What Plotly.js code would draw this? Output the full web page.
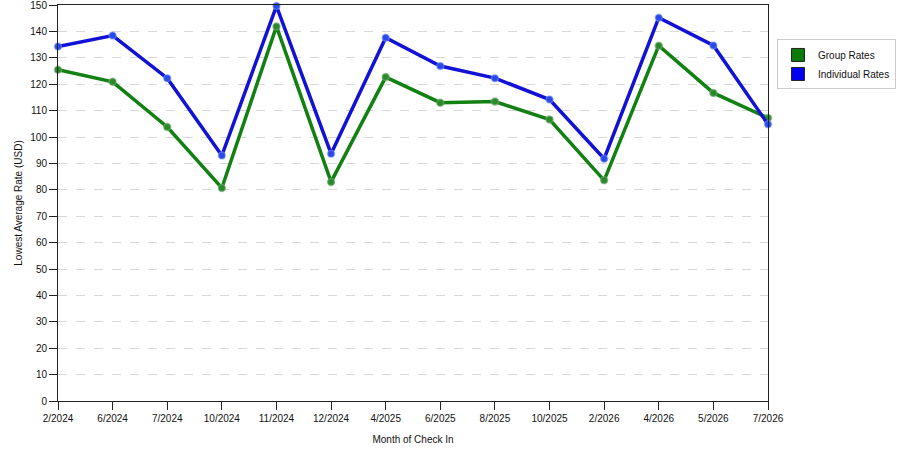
<!DOCTYPE html>
<html>
<head>
<meta charset="utf-8">
<script src="https://cdn.plot.ly/plotly-3.0.1.min.js"></script>
<style>
  html, body { margin: 0; padding: 0; background: #fff; }
  #chart { width: 900px; height: 450px; }
</style>
</head>
<body>
<div id="chart"></div>
<script>
// Data
const months = ['2/2024', '6/2024', '7/2024', '10/2024', '11/2024', '12/2024', '4/2025',
                '6/2025', '8/2025', '10/2025', '2/2026', '4/2026', '5/2026', '7/2026'];
const groupRates = [125.5, 120.9, 103.8, 80.7, 141.9, 83.0, 122.7,
                    113.0, 113.4, 106.6, 83.6, 134.6, 116.7, 107.2];
const individualRates = [134.3, 138.4, 122.3, 93.0, 149.6, 93.7, 137.6,
                         126.9, 122.3, 114.2, 91.8, 145.2, 134.7, 104.8];
const yTicks = [0, 10, 20, 30, 40, 50, 60, 70, 80, 90, 100, 110, 120, 130, 140, 150];

const colors = { green: '#128012', blue: '#1212d6' };
const font = "'Liberation Sans', Arial, sans-serif";

function lineTrace(name, values, color, markerColor, haloColor) {
    return {
        type: 'scatter',
        mode: 'lines+markers',
        name: name,
        x: months,
        y: values,
        line: { color: color, width: 3.5 },
        marker: { color: markerColor, size: 7, line: { color: haloColor, width: 1.5 } },
        showlegend: false,
        cliponaxis: false
    };
}

// Legend-only entries drawn as squares, like the original
function legendTrace(name, color) {
    return {
        type: 'scatter',
        mode: 'markers',
        name: name,
        x: [null],
        y: [null],
        marker: { symbol: 'square', size: 13, color: color, line: { color: '#222', width: 1 } },
        hoverinfo: 'skip'
    };
}

const traces = [
    lineTrace('Group Rates', groupRates, colors.green, '#2a8a2a', 'rgba(110,170,110,0.6)'),
    lineTrace('Individual Rates', individualRates, colors.blue, '#2a4ae6', 'rgba(120,150,255,0.5)'),
    legendTrace('Group Rates', '#0a7a0a'),
    legendTrace('Individual Rates', '#0000f0')
];

const margin = { l: 58, r: 130, t: 4.5, b: 49 };
const plotW = 900 - margin.l - margin.r, plotH = 450 - margin.t - margin.b;

const layout = {
    width: 900,
    height: 450,
    margin: margin,
    paper_bgcolor: '#fff',
    plot_bgcolor: '#fff',
    font: { family: font, size: 10, color: '#111' },
    showlegend: true,
    legend: {
        // legend box top-left at about (779, 39) px
        x: (779 - margin.l) / plotW,
        y: 1 - (39 - margin.t) / plotH,
        xanchor: 'left', yanchor: 'top',
        bordercolor: '#cccccc', borderwidth: 1,
        bgcolor: '#fff',
        font: { family: font, size: 10, color: '#111' },
        itemwidth: 30,
        tracegroupgap: 2
    },
    xaxis: {
        type: 'category',
        range: [0, months.length - 1],
        showgrid: false,
        showline: true, linecolor: '#222', linewidth: 1, mirror: true,
        ticks: 'outside', ticklen: 8, tickcolor: '#222',
        tickfont: { family: font, size: 10, color: '#111' },
        zeroline: false,
        title: { text: 'Month of Check In', font: { family: font, size: 10, color: '#111' }, standoff: 12 }
    },
    yaxis: {
        range: [0, 150],
        tickmode: 'array',
        tickvals: yTicks,
        ticklabeloverflow: 'allow',
        showgrid: true, gridcolor: '#d8d8d8', griddash: 'dash', gridwidth: 1,
        showline: true, linecolor: '#222', linewidth: 1, mirror: true,
        ticks: 'outside', ticklen: 8, tickcolor: '#222',
        tickfont: { family: font, size: 10, color: '#111' },
        zeroline: false,
        title: { text: 'Lowest Average Rate (USD)', font: { family: font, size: 10, color: '#111' }, standoff: 5 }
    }
};

Plotly.newPlot('chart', traces, layout, { displayModeBar: false, staticPlot: true });
</script>
</body>
</html>
